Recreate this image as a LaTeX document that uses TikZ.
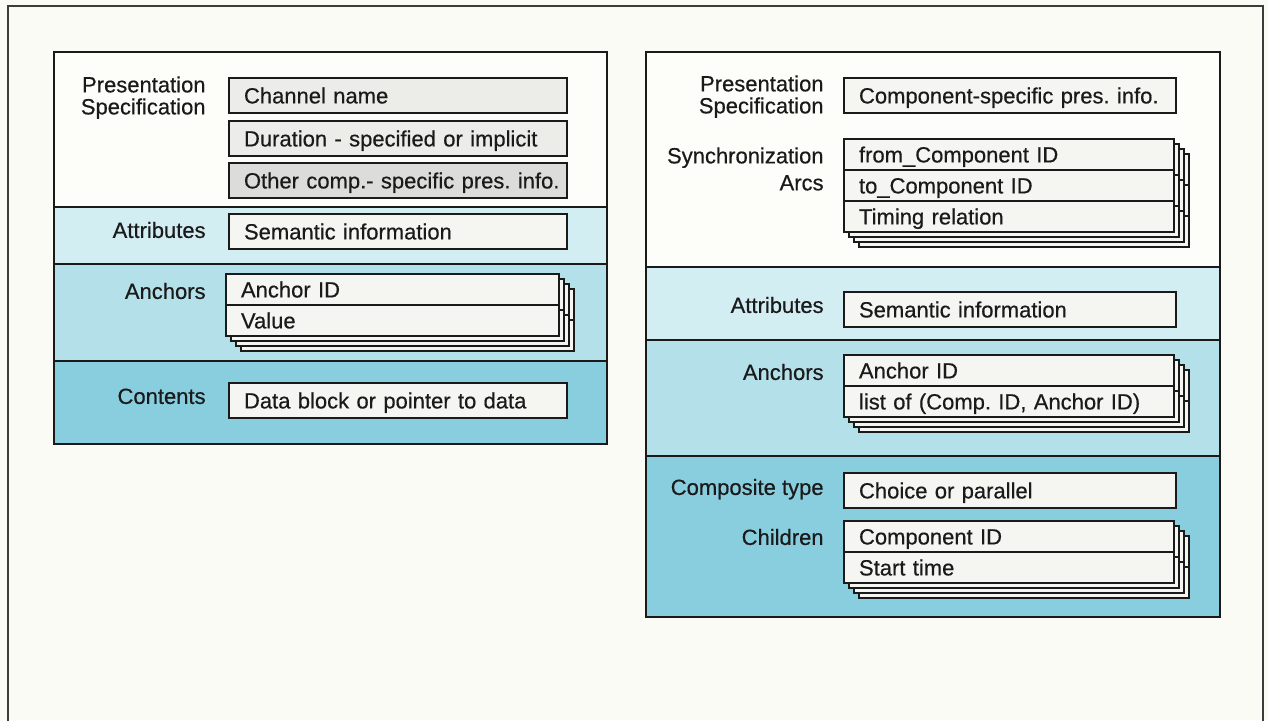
\documentclass[tikz,border=0pt]{standalone}
\usepackage{fontspec}
\setmainfont{Liberation Sans}[FakeBold=0.5]
\newcommand\fsz{\fontsize{11}{11}\selectfont\frenchspacing}
\definecolor{pagebg}{HTML}{FBFBF6}
\definecolor{secwhite}{HTML}{FDFDF9}
\definecolor{bandA}{HTML}{D2EEF3}
\definecolor{bandB}{HTML}{B4E0E9}
\definecolor{bandC}{HTML}{88CEDF}
\definecolor{boxfill}{HTML}{F5F5F1}
\definecolor{boxgrayA}{HTML}{ECECE8}
\definecolor{boxgrayB}{HTML}{DCDCD8}
\definecolor{ink}{HTML}{1A1A1A}
\tikzset{
  lblbase/.style={font=\fsz, text=ink, inner sep=0pt},
  lbl/.style={lblbase, text height=7.9pt, text depth=0pt, anchor=east},
  lblm/.style={lblbase, align=right, anchor=north east},
  fld/.style={draw=ink, line width=0.9pt, fill=boxfill, font=\fsz, text=ink,
    inner xsep=7.5pt, inner ysep=0pt, text height=7.9pt, text depth=0pt, align=left},
  wideL/.style={minimum width=169pt, text width=154pt, minimum height=17.5pt},
  wideR/.style={minimum width=166pt, text width=151pt, minimum height=17.5pt},
  rowL/.style={minimum width=166.5pt, text width=151.5pt, minimum height=15.5pt},
  rowR/.style={minimum width=165pt, text width=150pt, minimum height=15.5pt},
  layer/.style={draw=ink, line width=0.9pt, fill=boxfill},
  panel/.style={draw=ink, line width=1.2pt},
  secline/.style={draw=ink, line width=1pt}
}
\begin{document}
\begin{tikzpicture}[x=0.5pt, y=-0.5pt]
\useasboundingbox (0,0) rectangle (1268,720);
\fill[pagebg] (0,0) rectangle (1268,720);
\draw[line width=0.8pt, draw=ink!85] (8,721) -- (8,6) -- (1263,6) -- (1263,721);

% ---------- left panel ----------
\fill[secwhite] (54,52) rectangle (607,207);
\fill[bandA] (54,207) rectangle (607,264);
\fill[bandB] (54,264) rectangle (607,361);
\fill[bandC] (54,361) rectangle (607,444);
\draw[secline] (54,207) -- (607,207) (54,264) -- (607,264) (54,361) -- (607,361);
\draw[panel] (54,52) rectangle (607,444);

\node[lblm] (lps) at (206,76) {Presentation\\Specification};
\node[lbl] (latt) at (206,230) {Attributes};
\node[lbl] (lanc) at (206,291) {Anchors};
\node[lbl] (lcont) at (206,396) {Contents};

\node[fld, wideL, fill=boxgrayA] (chan) at (398,95.5) {Channel name};
\node[fld, wideL, fill=boxgrayA] (dur) at (398,138.5) {Duration - specified or implicit};
\node[fld, wideL, fill=boxgrayB] (oth) at (398,180.5) {\mbox{Other comp.- specific pres. info.}};
\node[fld, wideL] (lsem) at (398,231.5) {Semantic information};
\foreach \k in {3,2,1}{
  \draw[layer, shift={(5*\k,5*\k)}] (226,274) rectangle (559,336) (226,305) -- (559,305);
}
\node[fld, rowL] (lancid) at (392.5,289.5) {Anchor ID};
\node[fld, rowL] (lval) at (392.5,320.5) {Value};
\node[fld, wideL] (data) at (398,400.5) {Data block or pointer to data};

% ---------- right panel ----------
\fill[secwhite] (646,52) rectangle (1220,267);
\fill[bandA] (646,267) rectangle (1220,340);
\fill[bandB] (646,340) rectangle (1220,456);
\fill[bandC] (646,456) rectangle (1220,617);
\draw[secline] (646,267) -- (1220,267) (646,340) -- (1220,340) (646,456) -- (1220,456);
\draw[panel] (646,52) rectangle (1220,617);

\node[lblm] (rps) at (824,75) {Presentation\\Specification};
\node[lblm] (rsync) at (824,147) {Synchronization\\[2.5pt]Arcs};
\node[lbl] (ratt) at (824,305) {Attributes};
\node[lbl] (ranc) at (824,372) {Anchors};
\node[lbl] (rcomp) at (824,487) {Composite type};
\node[lbl] (rchild) at (824,537) {Children};

\node[fld, wideR] (comp) at (1010,95.5) {\mbox{Component-specific pres. info.}};
\foreach \k in {3,2,1}{
  \draw[layer, shift={(5*\k,5*\k)}] (844,139) rectangle (1174,232) (844,170) -- (1174,170) (844,201) -- (1174,201);
}
\node[fld, rowR] (from) at (1009,154.5) {from\_Component ID};
\node[fld, rowR] (to) at (1009,185.5) {to\_Component ID};
\node[fld, rowR] (timing) at (1009,216.5) {Timing relation};
\node[fld, wideR] (rsem) at (1010,309.5) {Semantic information};
\foreach \k in {3,2,1}{
  \draw[layer, shift={(5*\k,5*\k)}] (844,355) rectangle (1174,417) (844,386) -- (1174,386);
}
\node[fld, rowR] (rancid) at (1009,370.5) {Anchor ID};
\node[fld, rowR] (rlist) at (1009,401.5) {\mbox{list of (Comp. ID, Anchor ID)}};
\node[fld, wideR] (choice) at (1010,490.5) {Choice or parallel};
\foreach \k in {3,2,1}{
  \draw[layer, shift={(5*\k,5*\k)}] (844,521) rectangle (1174,583) (844,552) -- (1174,552);
}
\node[fld, rowR] (compid) at (1009,536.5) {Component ID};
\node[fld, rowR] (start) at (1009,567.5) {Start time};
\end{tikzpicture}
\end{document}
